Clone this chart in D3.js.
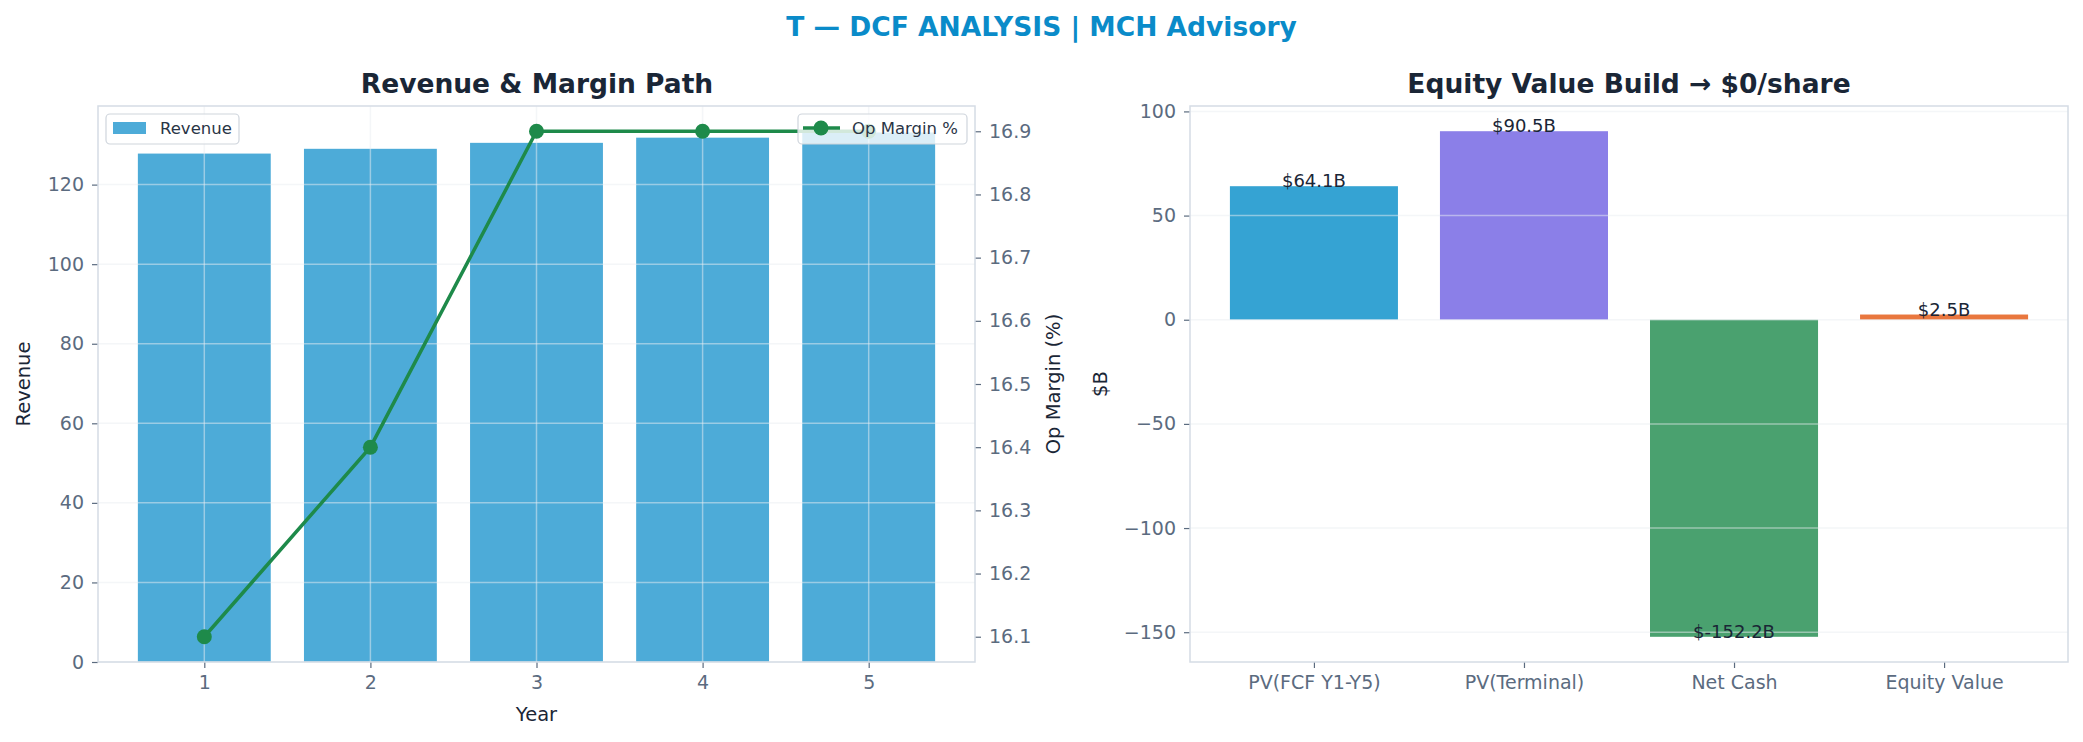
<!DOCTYPE html>
<html>
<head>
<meta charset="utf-8">
<script src="https://cdn.jsdelivr.net/npm/d3@7"></script>
<style>
  body { margin: 0; background: #fff; }
  svg { font-family: "DejaVu Sans", sans-serif; }
</style>
</head>
<body>
<svg id="chart"></svg>
<script>
// data
var years = [1, 2, 3, 4, 5];
var revenue = [127.8, 129.0, 130.5, 131.8, 133.1];
var opMargin = [16.1, 16.4, 16.9, 16.9, 16.9];

var bridgeLabels = ["PV(FCF Y1-Y5)", "PV(Terminal)", "Net Cash", "Equity Value"];
var bridgeValues = [64.1, 90.5, -152.2, 2.5];
var bridgeColors = ["#35a3d3", "#8b7fe8", "#4aa16f", "#e9773e"];

var revTicks = [0, 20, 40, 60, 80, 100, 120];
var marginTicks = [16.1, 16.2, 16.3, 16.4, 16.5, 16.6, 16.7, 16.8, 16.9];
var bridgeTicks = [-150, -100, -50, 0, 50, 100];

var W = 2083, H = 742;
var svg = d3.select("#chart").attr("width", W).attr("height", H);
svg.append("rect").attr("width", W).attr("height", H).attr("fill", "#fff");

var tickColor = "#5b6b7f", darkText = "#1a2636", spineColor = "#d5dce5", gridColor = "#e9edf2";

// main title
svg.append("text")
  .attr("x", W / 2).attr("y", 36)
  .attr("text-anchor", "middle")
  .attr("font-size", 26.5).attr("font-weight", "bold")
  .attr("fill", "#0a8bc9")
  .text("T \u2014 DCF ANALYSIS | MCH Advisory");

function styleAxis(g) {
  g.select(".domain").remove();
  g.selectAll(".tick line").attr("stroke", tickColor).attr("stroke-width", 1.2);
  g.selectAll(".tick text").attr("fill", tickColor).attr("font-size", 19)
    .attr("font-family", "DejaVu Sans");
}

// ---------- left: revenue & margin ----------
var L = {left: 98, right: 975, top: 106, bottom: 662};

var x1 = d3.scaleLinear().domain([0.36, 5.64]).range([L.left, L.right]);
var y1 = d3.scaleLinear().domain([0, 139.76]).range([L.bottom, L.top]);
var y2 = d3.scaleLinear().domain([16.06, 16.94]).range([L.bottom, L.top]);

var left = svg.append("g");

left.selectAll("rect.rev")
  .data(revenue)
  .enter().append("rect")
  .attr("class", "rev")
  .attr("x", function(d, i) { return x1(years[i] - 0.4); })
  .attr("width", function(d, i) { return x1(years[i] + 0.4) - x1(years[i] - 0.4); })
  .attr("y", function(d) { return y1(d); })
  .attr("height", function(d) { return y1(0) - y1(d); })
  .attr("fill", "#4dabd8");

// grid (drawn over bars)
left.selectAll("line.gy")
  .data(revTicks)
  .enter().append("line")
  .attr("x1", L.left).attr("x2", L.right)
  .attr("y1", function(d) { return y1(d); }).attr("y2", function(d) { return y1(d); })
  .attr("stroke", gridColor).attr("stroke-opacity", 0.5).attr("stroke-width", 1.5);
left.selectAll("line.gx")
  .data(years)
  .enter().append("line")
  .attr("y1", L.top).attr("y2", L.bottom)
  .attr("x1", function(d) { return x1(d); }).attr("x2", function(d) { return x1(d); })
  .attr("stroke", gridColor).attr("stroke-opacity", 0.5).attr("stroke-width", 1.5);

left.append("g")
  .attr("transform", "translate(" + L.left + ",0)")
  .call(d3.axisLeft(y1).tickValues(revTicks).tickSize(6).tickPadding(8).tickFormat(d3.format("d")))
  .call(styleAxis);
left.append("g")
  .attr("transform", "translate(0," + L.bottom + ")")
  .call(d3.axisBottom(x1).tickValues(years).tickSize(6).tickPadding(8).tickFormat(d3.format("d")))
  .call(styleAxis);
left.append("g")
  .attr("transform", "translate(" + L.right + ",0)")
  .call(d3.axisRight(y2).tickValues(marginTicks).tickSize(6).tickPadding(8).tickFormat(d3.format(".1f")))
  .call(styleAxis);

// revenue legend (ax1)
var lg1 = left.append("g");
lg1.append("rect").attr("x", 106).attr("y", 114).attr("width", 133).attr("height", 30)
  .attr("rx", 4).attr("fill", "#fff").attr("fill-opacity", 0.8)
  .attr("stroke", "#cfd5dc").attr("stroke-width", 1.2);
lg1.append("rect").attr("x", 113).attr("y", 122).attr("width", 33).attr("height", 12)
  .attr("fill", "#4dabd8");
lg1.append("text").attr("x", 160).attr("y", 134).attr("font-size", 16.5)
  .attr("fill", "#2a3546").text("Revenue");

// margin line (twin axis, drawn on top)
var line = d3.line()
  .x(function(d, i) { return x1(years[i]); })
  .y(function(d) { return y2(d); });
left.append("path")
  .datum(opMargin)
  .attr("d", line)
  .attr("fill", "none").attr("stroke", "#1e8a4a").attr("stroke-width", 3.5);
left.selectAll("circle.pt")
  .data(opMargin)
  .enter().append("circle")
  .attr("cx", function(d, i) { return x1(years[i]); })
  .attr("cy", function(d) { return y2(d); })
  .attr("r", 7.5).attr("fill", "#1e8a4a");

// margin legend
var lg2 = left.append("g");
lg2.append("rect").attr("x", 798).attr("y", 114).attr("width", 169).attr("height", 30)
  .attr("rx", 4).attr("fill", "#fff").attr("fill-opacity", 0.8)
  .attr("stroke", "#cfd5dc").attr("stroke-width", 1.2);
lg2.append("line").attr("x1", 803).attr("x2", 840).attr("y1", 128).attr("y2", 128)
  .attr("stroke", "#1e8a4a").attr("stroke-width", 3.5);
lg2.append("circle").attr("cx", 821).attr("cy", 128).attr("r", 7.5).attr("fill", "#1e8a4a");
lg2.append("text").attr("x", 852).attr("y", 134).attr("font-size", 16.5)
  .attr("fill", "#2a3546").text("Op Margin %");

left.append("rect")
  .attr("x", L.left).attr("y", L.top)
  .attr("width", L.right - L.left).attr("height", L.bottom - L.top)
  .attr("fill", "none").attr("stroke", spineColor).attr("stroke-width", 1.5);

left.append("text")
  .attr("x", 537).attr("y", 93).attr("text-anchor", "middle")
  .attr("font-size", 26.5).attr("font-weight", "bold").attr("fill", darkText)
  .text("Revenue & Margin Path");
left.append("text")
  .attr("x", (L.left + L.right) / 2).attr("y", 721).attr("text-anchor", "middle")
  .attr("font-size", 19.5).attr("fill", darkText).text("Year");
left.append("text")
  .attr("transform", "translate(30," + (L.top + L.bottom) / 2 + ") rotate(-90)")
  .attr("text-anchor", "middle")
  .attr("font-size", 19.5).attr("fill", darkText).text("Revenue");
left.append("text")
  .attr("transform", "translate(1060," + (L.top + L.bottom) / 2 + ") rotate(-90)")
  .attr("text-anchor", "middle")
  .attr("font-size", 19.5).attr("fill", darkText).text("Op Margin (%)");

// ---------- right: equity value build ----------
var R = {left: 1190, right: 2068, top: 106, bottom: 662};
var xr = d3.scaleLinear().domain([-0.59, 3.59]).range([R.left, R.right]);
var yr = d3.scaleLinear().domain([-164.3, 102.6]).range([R.bottom, R.top]);
var idx = d3.range(bridgeLabels.length);

var right = svg.append("g");

right.selectAll("rect.br")
  .data(bridgeValues)
  .enter().append("rect")
  .attr("x", function(d, i) { return xr(i - 0.4); })
  .attr("width", function(d, i) { return xr(i + 0.4) - xr(i - 0.4); })
  .attr("y", function(d) { return yr(Math.max(0, d)); })
  .attr("height", function(d) { return Math.abs(yr(d) - yr(0)); })
  .attr("fill", function(d, i) { return bridgeColors[i]; });

right.selectAll("line.gy")
  .data(bridgeTicks)
  .enter().append("line")
  .attr("x1", R.left).attr("x2", R.right)
  .attr("y1", function(d) { return yr(d); }).attr("y2", function(d) { return yr(d); })
  .attr("stroke", gridColor).attr("stroke-opacity", 0.5).attr("stroke-width", 1.5);

right.append("g")
  .attr("transform", "translate(" + R.left + ",0)")
  .call(d3.axisLeft(yr).tickValues(bridgeTicks).tickSize(6).tickPadding(8).tickFormat(d3.format("d")))
  .call(styleAxis);
right.append("g")
  .attr("transform", "translate(0," + R.bottom + ")")
  .call(d3.axisBottom(xr).tickValues(idx).tickSize(6).tickPadding(8)
    .tickFormat(function(i) { return bridgeLabels[i]; }))
  .call(styleAxis);

// value labels sit on the bar end (baseline at the value)
right.selectAll("text.val")
  .data(bridgeValues)
  .enter().append("text")
  .attr("x", function(d, i) { return xr(i); })
  .attr("y", function(d) { return yr(d) + 1; })
  .attr("text-anchor", "middle")
  .attr("font-size", 18).attr("fill", darkText)
  .text(function(d) { return "$" + d.toFixed(1) + "B"; });

right.append("rect")
  .attr("x", R.left).attr("y", R.top)
  .attr("width", R.right - R.left).attr("height", R.bottom - R.top)
  .attr("fill", "none").attr("stroke", spineColor).attr("stroke-width", 1.5);

right.append("text")
  .attr("x", (R.left + R.right) / 2).attr("y", 93).attr("text-anchor", "middle")
  .attr("font-size", 26.5).attr("font-weight", "bold").attr("fill", darkText)
  .text("Equity Value Build \u2192 $0/share");
right.append("text")
  .attr("transform", "translate(1107," + (R.top + R.bottom) / 2 + ") rotate(-90)")
  .attr("text-anchor", "middle")
  .attr("font-size", 19.5).attr("fill", darkText).text("$B");
</script>
</body>
</html>
